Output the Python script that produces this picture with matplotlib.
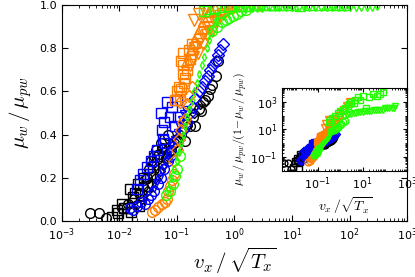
import numpy as np
import matplotlib
matplotlib.use("Agg")
import matplotlib.pyplot as plt
from matplotlib.ticker import LogLocator, NullFormatter, FixedLocator

# data: (x = v_x/sqrt(T_x), y = mu_w/mu_pw)
black_o_x = [0.0031, 0.0044, 0.0059, 0.011, 0.014, 0.018, 0.022, 0.026, 0.03, 0.033, 0.036, 0.04,
             0.044, 0.048, 0.052, 0.056, 0.06, 0.065, 0.07, 0.08, 0.09, 0.1, 0.12, 0.14, 0.15, 0.17,
             0.19, 0.21, 0.24, 0.26, 0.28, 0.31, 0.34, 0.38, 0.41, 0.47, 0.51]
black_o_y = [0.037, 0.037, 0.014, 0.06, 0.08, 0.1, 0.13, 0.16, 0.2, 0.24, 0.28, 0.3,
             0.33, 0.31, 0.36, 0.34, 0.38, 0.29, 0.4, 0.33, 0.36, 0.38, 0.41, 0.37, 0.45, 0.44,
             0.48, 0.44, 0.52, 0.51, 0.55, 0.56, 0.58, 0.61, 0.63, 0.67, 0.74]
black_s_x = [0.0075, 0.009, 0.0095, 0.011, 0.012, 0.0136, 0.015, 0.017, 0.019, 0.021, 0.024,
             0.027, 0.03, 0.034, 0.038, 0.045, 0.016, 0.022]
black_s_y = [0.02, 0.05, 0.037, 0.08, 0.06, 0.014, 0.15, 0.11, 0.13, 0.17, 0.12,
             0.2, 0.16, 0.22, 0.25, 0.3, 0.04, 0.07]
black_d_x = [0.02, 0.025, 0.03, 0.036, 0.042, 0.05, 0.058, 0.066, 0.075, 0.085, 0.1, 0.12,
             0.15, 0.2, 0.25, 0.028, 0.04, 0.055]
black_d_y = [0.08, 0.1, 0.14, 0.17, 0.2, 0.23, 0.26, 0.3, 0.32, 0.35, 0.38, 0.4,
             0.44, 0.5, 0.54, 0.2, 0.27, 0.34]

blue_s_x = [0.02, 0.023, 0.026, 0.03, 0.035, 0.04, 0.045, 0.052, 0.058, 0.063, 0.068, 0.076,
            0.083, 0.094, 0.1, 0.06, 0.055, 0.105]
blue_s_y = [0.15, 0.19, 0.22, 0.25, 0.28, 0.3, 0.33, 0.5, 0.38, 0.36, 0.55, 0.48,
            0.53, 0.44, 0.56, 0.46, 0.42, 0.48]
blue_d_x = [0.08, 0.095, 0.11, 0.13, 0.15, 0.17, 0.19, 0.21, 0.24, 0.27, 0.31, 0.35, 0.38,
            0.43, 0.47, 0.51, 0.56, 0.62]
blue_d_y = [0.3, 0.34, 0.38, 0.42, 0.46, 0.5, 0.53, 0.57, 0.6, 0.62, 0.65, 0.67, 0.7,
            0.72, 0.74, 0.77, 0.79, 0.82]
blue_o_x = [0.015, 0.017, 0.02, 0.024, 0.028, 0.032, 0.036, 0.04, 0.046, 0.052, 0.06, 0.07, 0.08]
blue_o_y = [0.06, 0.05, 0.07, 0.09, 0.08, 0.1, 0.12, 0.14, 0.17, 0.2, 0.24, 0.28, 0.32]
blue_v_x = [0.04, 0.045, 0.05, 0.055, 0.06, 0.065, 0.07, 0.075, 0.08, 0.09, 0.1, 0.11, 0.12,
            0.13, 0.14]
blue_v_y = [0.15, 0.18, 0.2, 0.23, 0.25, 0.28, 0.3, 0.33, 0.35, 0.38, 0.41, 0.44, 0.47,
            0.5, 0.52]

orange_o_x = [0.037, 0.042, 0.047, 0.055, 0.062, 0.068, 0.071, 0.077, 0.083, 0.09]
orange_o_y = [0.04, 0.05, 0.065, 0.08, 0.09, 0.1, 0.14, 0.16, 0.19, 0.22]
orange_d_x = [0.09, 0.1, 0.11, 0.115, 0.12, 0.13, 0.14, 0.15, 0.16, 0.18]
orange_d_y = [0.28, 0.33, 0.38, 0.55, 0.42, 0.46, 0.47, 0.54, 0.58, 0.62]
orange_s_x = [0.094, 0.1, 0.11, 0.115, 0.12, 0.125, 0.13, 0.13, 0.14, 0.15, 0.16, 0.17, 0.18,
              0.12, 0.135]
orange_s_y = [0.56, 0.6, 0.62, 0.58, 0.61, 0.68, 0.72, 0.78, 0.66, 0.7, 0.79, 0.75, 0.82,
              0.74, 0.64]
orange_v_x = [0.17, 0.19, 0.21, 0.23, 0.25, 0.28, 0.3, 0.33, 0.36, 0.4, 0.45, 0.5, 0.55, 0.62,
              0.7, 0.8, 0.9, 1.0, 1.2, 1.5, 2.0, 2.8, 0.2, 0.24, 0.3]
orange_v_y = [0.72, 0.76, 0.8, 0.78, 0.84, 0.82, 0.87, 0.86, 0.9, 0.88, 0.92, 0.93, 0.95, 0.96,
              0.97, 0.98, 0.985, 0.99, 0.993, 0.996, 0.998, 0.999, 0.93, 0.96, 0.98]
orange_t_x = [0.15, 0.18, 0.2, 0.22, 0.26, 0.3, 0.35, 0.38, 0.45]
orange_t_y = [0.74, 0.8, 0.83, 0.86, 0.9, 0.93, 0.95, 0.97, 0.98]

green_d_x = [0.07, 0.08, 0.09, 0.1, 0.11, 0.12, 0.13, 0.14, 0.15, 0.16, 0.18, 0.2, 0.22, 0.24,
             0.27, 0.3, 0.33, 0.36, 0.4, 0.45, 0.5]
green_d_y = [0.15, 0.2, 0.24, 0.28, 0.32, 0.36, 0.4, 0.44, 0.48, 0.52, 0.56, 0.6, 0.64, 0.68,
             0.72, 0.76, 0.8, 0.84, 0.88, 0.92, 0.95]
green_o_x = [0.065, 0.075, 0.087, 0.094, 0.1, 0.115, 0.4, 0.5, 0.6, 0.7, 0.8, 0.95, 1.1, 1.3, 1.6]
green_o_y = [0.12, 0.14, 0.17, 0.21, 0.24, 0.3, 0.88, 0.9, 0.92, 0.93, 0.94, 0.95, 0.96, 0.97,
             0.975]
green_v_x = [1.5, 2, 2.5, 3, 4, 5, 6, 8, 10, 13, 16, 20, 25, 32, 40, 50, 63, 80, 100, 130, 160,
             200, 250, 300]
green_v_y = [0.99, 0.991, 0.992, 0.992, 0.993, 0.993, 0.994, 0.994, 0.994, 0.995, 0.995,
             0.995, 0.995, 0.996, 0.996, 0.996, 0.996, 0.996, 0.997, 0.997, 0.997,
             0.997, 0.997, 0.998]
green_s_x = [0.3, 0.35, 0.45, 0.6, 0.8, 1.0, 1.3, 1.7, 2.2, 2.5, 3, 4, 4.8, 6, 8, 10, 14, 20,
             30, 45, 60, 80]
green_s_y = [0.97, 0.98, 0.985, 0.99, 0.993, 0.995, 0.996, 0.997, 0.998, 0.9985, 0.999, 0.9988,
             0.9993, 0.9995, 0.9993, 0.9996, 0.9973, 0.9995, 0.9997, 0.9996, 0.9997, 0.9998]

K, B, O, G = "black", "#0000ff", "#ff7f00", "#22ff00"
groups = [
    (black_s_x, black_s_y, K, "s", 7),
    (black_d_x, black_d_y, K, "D", 5),
    (black_o_x, black_o_y, K, "o", 7),
    (blue_o_x, blue_o_y, B, "o", 7),
    (blue_s_x, blue_s_y, B, "s", 7),
    (blue_v_x, blue_v_y, B, "v", 5),
    (blue_d_x, blue_d_y, B, "D", 6),
    (orange_o_x, orange_o_y, O, "o", 7),
    (orange_d_x, orange_d_y, O, "D", 6),
    (orange_s_x, orange_s_y, O, "s", 7),
    (orange_v_x, orange_v_y, O, "v", 8),
    (orange_t_x, orange_t_y, O, "^", 8),
    (green_o_x, green_o_y, G, "o", 7),
    (green_d_x, green_d_y, G, "d", 4),
    (green_s_x, green_s_y, G, "s", 7),
    (green_v_x, green_v_y, G, "v", 7),
]

fig = plt.figure(figsize=(4.15, 2.77), dpi=100)
ax = fig.add_axes([0.149, 0.202, 0.832, 0.780])

for x, y, c, m, s in groups:
    ax.plot(x, y, linestyle="none", marker=m, ms=s, mfc="none", mec=c, mew=1.0)

ax.set_xscale("log")
ax.set_xlim(1e-3, 1e3)
ax.set_ylim(0, 1)
ax.set_yticks([0, 0.2, 0.4, 0.6, 0.8, 1.0])
ax.set_yticklabels(["0.0", "0.2", "0.4", "0.6", "0.8", "1.0"])
ax.xaxis.set_major_locator(LogLocator(base=10, numticks=10))
ax.xaxis.set_minor_locator(LogLocator(base=10, subs=np.arange(2, 10), numticks=20))
ax.xaxis.set_minor_formatter(NullFormatter())
ax.tick_params(which="both", direction="in", top=True, right=True, labelsize=8)
ax.tick_params(which="major", length=4)
ax.tick_params(which="minor", length=2)
ax.set_xlabel(r"$v_x\,/\,\sqrt{T_x}$", fontsize=15, labelpad=2, math_fontfamily="cm")
ax.set_ylabel(r"$\mu_w\,/\,\mu_{pw}$", fontsize=15, labelpad=4, math_fontfamily="cm")

# inset: same data, y/(1-y)
ins = fig.add_axes([0.680, 0.383, 0.301, 0.300])
for x, y, c, m, s in groups:
    xa = np.array(x)
    ya = np.array(y)
    keep = ya < 1
    r = ya[keep] / (1 - ya[keep])
    ins.plot(xa[keep], r, linestyle="none", marker=m, ms=s * 0.7, mfc="none", mec=c, mew=1.0)

ins.set_xscale("log")
ins.set_yscale("log")
ins.set_xlim(2.5e-3, 1e3)
ins.set_ylim(1e-2, 1e4)
ins.xaxis.set_major_locator(FixedLocator([1e-1, 1e1, 1e3]))
ins.yaxis.set_major_locator(FixedLocator([1e-1, 1e1, 1e3]))
ins.xaxis.set_minor_locator(LogLocator(base=10, subs=np.arange(1, 10), numticks=20))
ins.yaxis.set_minor_locator(LogLocator(base=10, subs=np.arange(1, 10), numticks=20))
ins.xaxis.set_minor_formatter(NullFormatter())
ins.yaxis.set_minor_formatter(NullFormatter())
ins.tick_params(which="both", direction="in", top=True, right=True, labelsize=8)
ins.tick_params(which="major", length=3)
ins.tick_params(which="minor", length=1.5)
ins.set_xlabel(r"$v_x\,/\sqrt{T_x}$", fontsize=10, labelpad=2, math_fontfamily="cm")
ins.set_ylabel(r"$\mu_w\,/\,\mu_{pw}/(1\!-\!\mu_w\,/\,\mu_{pw})$", fontsize=8.5, labelpad=1,
               math_fontfamily="cm")

fig.savefig("out.png", dpi=100)
